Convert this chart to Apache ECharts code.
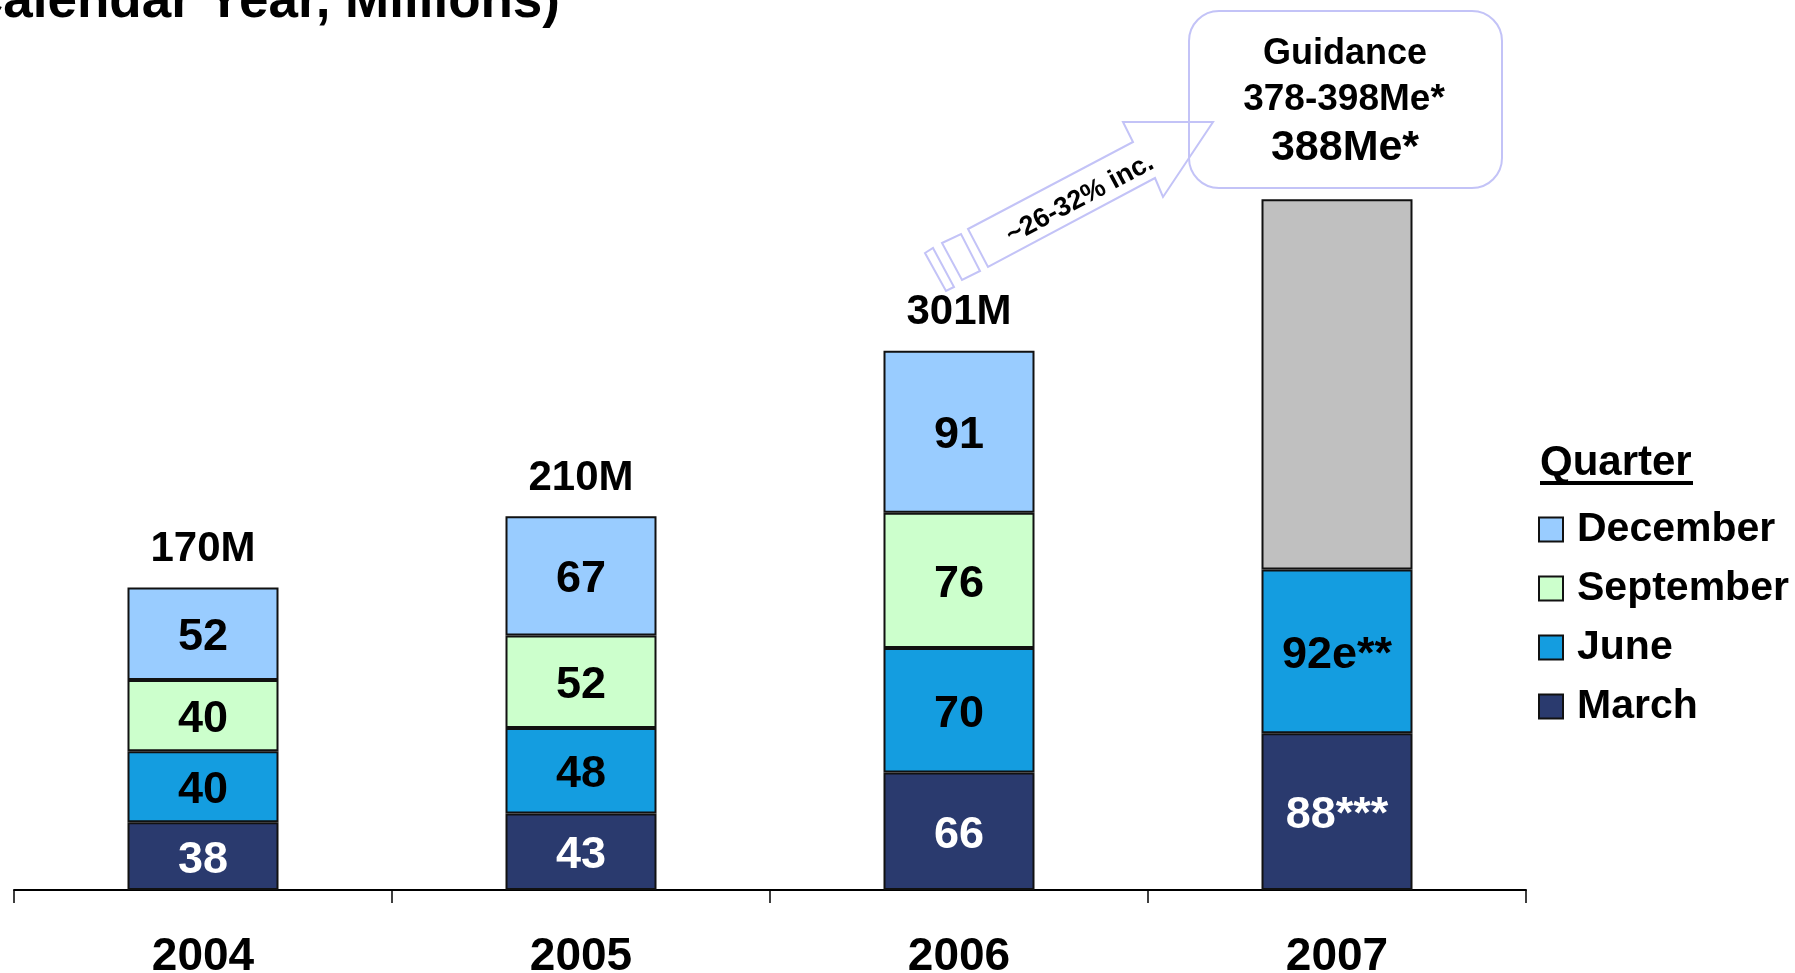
<!DOCTYPE html>
<html>
<head>
<meta charset="utf-8">
<title>Calendar Year, Millions</title>
<script src="https://cdn.jsdelivr.net/npm/echarts@6.0.0/dist/echarts.min.js"></script>
<style>
	html, body { margin: 0; padding: 0; background: #fff; }
	#main { width: 1795px; height: 973px; }
</style>
</head>
<body>
<div id="main"></div>
<script>
	var years = ['2004', '2005', '2006', '2007'];
	var march = [38, 43, 66, 88];
	var june = [40, 48, 70, 92];
	var september = [40, 52, 76, null];
	var december = [52, 67, 91, null];
	var guidanceRest = [null, null, null, 208];
	var totalBase = [0, 0, 0, 0];

	var marchLabels = ['38', '43', '66', '88***'];
	var juneLabels = ['40', '48', '70', '92e**'];
	var septemberLabels = ['40', '52', '76', ''];
	var decemberLabels = ['52', '67', '91', ''];
	var totalLabels = ['170M', '210M', '301M', ''];
	var legendNames = ['December', 'September', 'June', 'March'];

	var FONT = '"Liberation Sans", Arial, sans-serif';
	var LAVENDER = '#c3c3f7';

	var myChart = echarts.init(document.getElementById('main'));

	function segLabel(list, color) {
		return {
			show: true,
			position: 'inside',
			offset: [0, 4],
			color: color,
			fontSize: 45,
			fontWeight: 'bold',
			fontFamily: FONT,
			formatter: function(p) {
				return list[p.dataIndex];
			}
		};
	}

	function barSeries(name, data, color, label) {
		return {
			name: name,
			type: 'bar',
			stack: 'total',
			barWidth: 151,
			data: data,
			itemStyle: {
				color: color,
				borderColor: '#111',
				borderWidth: 2
			},
			label: label
		};
	}

	var option = {
		backgroundColor: '#fff',
		animation: false,
		grid: {
			left: 14,
			right: 269,
			top: 178,
			bottom: 83,
			containLabel: false,
			outerBoundsMode: 'none'
		},
		legend: {
			data: legendNames,
			orient: 'vertical',
			left: 1538,
			top: 509,
			padding: 0,
			icon: 'rect',
			itemWidth: 24,
			itemHeight: 24,
			itemGap: 18,
			textStyle: {
				color: '#000',
				fontSize: 41,
				fontWeight: 'bold',
				fontFamily: FONT,
				lineHeight: 40,
				padding: [0, 0, 0, 9]
			}
		},
		xAxis: {
			type: 'category',
			data: years,
			axisLine: {
				lineStyle: { color: '#000', width: 2 }
			},
			axisTick: {
				show: true,
				length: 13,
				lineStyle: { color: '#000', width: 1.5 }
			},
			axisLabel: {
				color: '#000',
				fontSize: 46,
				fontWeight: 'bold',
				fontFamily: FONT,
				margin: 44
			}
		},
		yAxis: {
			type: 'value',
			min: 0,
			max: 400,
			show: false,
			splitLine: { show: false }
		},
		series: [
			barSeries('March', march, '#2a3a6e', segLabel(marchLabels, '#fff')),
			barSeries('June', june, '#149de0', segLabel(juneLabels, '#000')),
			barSeries('September', september, '#ccffcc', segLabel(septemberLabels, '#000')),
			barSeries('December', december, '#99ccff', segLabel(decemberLabels, '#000')),
			barSeries('Guidance', guidanceRest, '#c0c0c0', { show: false }),
			{
				name: 'Total',
				type: 'bar',
				stack: 'total',
				barWidth: 151,
				data: totalBase,
				itemStyle: { color: 'rgba(0,0,0,0)', borderWidth: 0 },
				label: {
					show: true,
					position: 'top',
					distance: 17,
					color: '#000',
					fontSize: 42,
					fontWeight: 'bold',
					fontFamily: FONT,
					formatter: function(p) {
						return totalLabels[p.dataIndex];
					}
				}
			}
		],
		graphic: [
			// cut-off heading at the top
			{
				type: 'text',
				x: 560,
				y: 2,
				style: {
					text: '(Calendar Year, Millions)',
					fill: '#000',
					font: 'bold 53px ' + FONT,
					align: 'right',
					verticalAlign: 'middle'
				}
			},
			// legend heading
			{
				type: 'text',
				x: 1540,
				y: 463,
				style: {
					text: 'Quarter',
					fill: '#000',
					font: 'bold 42px ' + FONT,
					align: 'left',
					verticalAlign: 'middle'
				}
			},
			{
				type: 'rect',
				shape: { x: 1540, y: 481, width: 153, height: 4 },
				style: { fill: '#000' }
			},
			// guidance box
			{
				type: 'rect',
				shape: { x: 1189, y: 11, width: 313, height: 177, r: 30 },
				style: { fill: 'none', stroke: LAVENDER, lineWidth: 2 }
			},
			{
				type: 'text',
				x: 1345,
				y: 54,
				style: {
					text: 'Guidance',
					fill: '#000',
					font: 'bold 36px ' + FONT,
					align: 'center',
					verticalAlign: 'middle'
				}
			},
			{
				type: 'text',
				x: 1344,
				y: 100,
				style: {
					text: '378-398Me*',
					fill: '#000',
					font: 'bold 37px ' + FONT,
					align: 'center',
					verticalAlign: 'middle'
				}
			},
			{
				type: 'text',
				x: 1345,
				y: 148,
				style: {
					text: '388Me*',
					fill: '#000',
					font: 'bold 43px ' + FONT,
					align: 'center',
					verticalAlign: 'middle'
				}
			},
			// growth arrow
			{
				type: 'polygon',
				shape: {
					points: [[968, 229], [1133, 142], [1123, 122], [1213, 122], [1163, 197], [1155, 178], [988, 267]]
				},
				style: { fill: 'none', stroke: LAVENDER, lineWidth: 2 }
			},
			{
				type: 'polygon',
				shape: {
					points: [[942, 243], [961, 234], [980, 271], [962, 280]]
				},
				style: { fill: 'none', stroke: LAVENDER, lineWidth: 2 }
			},
			{
				type: 'polygon',
				shape: {
					points: [[925, 253], [933, 248], [954, 287], [946, 291]]
				},
				style: { fill: 'none', stroke: LAVENDER, lineWidth: 2 }
			},
			{
				type: 'text',
				x: 1080,
				y: 199,
				rotation: 28 * Math.PI / 180,
				style: {
					text: '~26-32% inc.',
					fill: '#000',
					font: 'bold 27px ' + FONT,
					align: 'center',
					verticalAlign: 'middle'
				}
			}
		]
	};

	myChart.setOption(option);
</script>
</body>
</html>
